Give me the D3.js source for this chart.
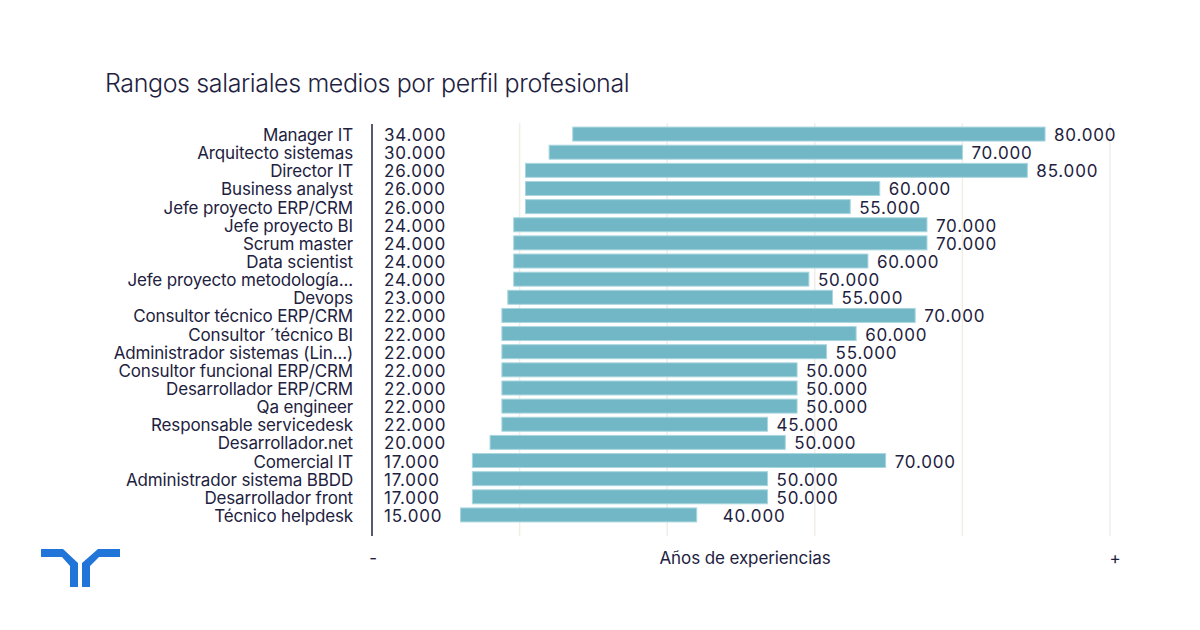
<!doctype html>
<meta charset="utf-8">

<style>
    body {
        margin: 0;
        background: #fff;
    }
    svg text {
        fill: #1e2240;
        font-family: Inter, "Noto Sans", sans-serif;
    }
</style>

<div id="chart"></div>

<script src="https://d3js.org/d3.v7.min.js"></script>

<script>

let categories = [
    "Manager IT", "Arquitecto sistemas", "Director IT", "Business analyst",
    "Jefe proyecto ERP/CRM", "Jefe proyecto BI", "Scrum master", "Data scientist",
    "Jefe proyecto metodología...", "Devops", "Consultor técnico ERP/CRM",
    "Consultor ´técnico BI", "Administrador sistemas (Lin...)",
    "Consultor funcional ERP/CRM", "Desarrollador ERP/CRM", "Qa engineer",
    "Responsable servicedesk", "Desarrollador.net", "Comercial IT",
    "Administrador sistema BBDD", "Desarrollador front", "Técnico helpdesk"
]
// salarios en miles de euros
let salMin = [34, 30, 26, 26, 26, 24, 24, 24, 24, 23, 22, 22, 22, 22, 22, 22, 22, 20, 17, 17, 17, 15]
let salMax = [80, 70, 85, 60, 55, 70, 70, 60, 50, 55, 70, 60, 55, 50, 50, 50, 45, 50, 70, 50, 50, 40]
let gridTicks = [25, 50, 75, 100, 125]

let width = 1200, height = 630
let fmt = v => d3.format(",")(v * 1000).replace(/,/g, ".")

let svg = d3.select("#chart")
    .append("svg")
    .attr("width", width)
    .attr("height", height)

let x = d3.scaleLinear().domain([0, 125]).range([372, 1110])
let y = d3.scaleBand()
    .domain(categories)
    .range([125, 524])
    .paddingInner(0.23)
    .paddingOuter(0.115)

// title
svg.append("text")
    .attr("x", 105)
    .attr("y", 92)
    .style("font-size", "25px")
    .style("font-weight", 300)
    .style("letter-spacing", "-0.38px")
    .text("Rangos salariales medios por perfil profesional")

// gridlines
svg.append("g")
    .selectAll("line")
    .data(gridTicks)
    .join("line")
    .attr("x1", d => x(d))
    .attr("x2", d => x(d))
    .attr("y1", 123)
    .attr("y2", 536)
    .style("stroke", "#f1eee8")
    .style("stroke-width", 1.5)

// bars: invisible part = min, visible part = max stacked after it
let rows = categories.map((c, i) => ({cat: c, lo: salMin[i], hi: salMax[i]}))

svg.append("g")
    .selectAll("rect")
    .data(rows)
    .join("rect")
    .attr("x", d => x(d.lo))
    .attr("y", d => y(d.cat))
    .attr("width", d => x(d.lo + d.hi) - x(d.lo))
    .attr("height", y.bandwidth())
    .style("fill", "#71b7c6")
    .style("stroke", "#a9d6df")
    .style("stroke-width", 1)

let labelStyle = sel => sel
    .style("font-size", "17px")
    .style("letter-spacing", "-0.15px")
    .attr("dominant-baseline", "central")

let numStyle = sel => sel
    .style("font-size", "17px")
    .style("letter-spacing", "0.8px")
    .attr("dominant-baseline", "central")

// category labels
svg.append("g")
    .selectAll("text")
    .data(rows)
    .join("text")
    .attr("x", 353)
    .attr("y", d => y(d.cat) + y.bandwidth() / 2 + 1)
    .attr("text-anchor", "end")
    .call(labelStyle)
    .text(d => d.cat)

// min labels
svg.append("g")
    .selectAll("text")
    .data(rows)
    .join("text")
    .attr("x", 384)
    .attr("y", d => y(d.cat) + y.bandwidth() / 2 + 1)
    .call(numStyle)
    .text(d => fmt(d.lo))

// max labels
svg.append("g")
    .selectAll("text")
    .data(rows)
    .join("text")
    .attr("x", d => x(d.lo + d.hi) + (d.cat == "Técnico helpdesk" ? 26 : 9))
    .attr("y", d => y(d.cat) + y.bandwidth() / 2 + 1)
    .call(numStyle)
    .text(d => fmt(d.hi))

// axis line
svg.append("line")
    .attr("x1", x(0)).attr("x2", x(0))
    .attr("y1", 124).attr("y2", 536)
    .style("stroke", "#1e2240")
    .style("stroke-width", 1.5)

// bottom axis captions
let bottom = svg.append("g").style("font-size", "17px").style("letter-spacing", "-0.1px")
bottom.append("text").attr("x", 373).attr("y", 564).attr("text-anchor", "middle").text("-")
bottom.append("text").attr("x", 745).attr("y", 564).attr("text-anchor", "middle").text("Años de experiencias")
bottom.append("text").attr("x", 1115).attr("y", 564).attr("text-anchor", "middle").text("+")

// logo
let logo = svg.append("g").attr("transform", "translate(41,549)").style("fill", "#2175d9")
logo.append("path").attr("d", "M0,0 H22 L37,14 V38 H29 V17 L21,8 H0 Z")
logo.append("path").attr("d", "M79,0 H57 L41,14 V38 H49 V17 L58,8 H79 Z")

</script>
